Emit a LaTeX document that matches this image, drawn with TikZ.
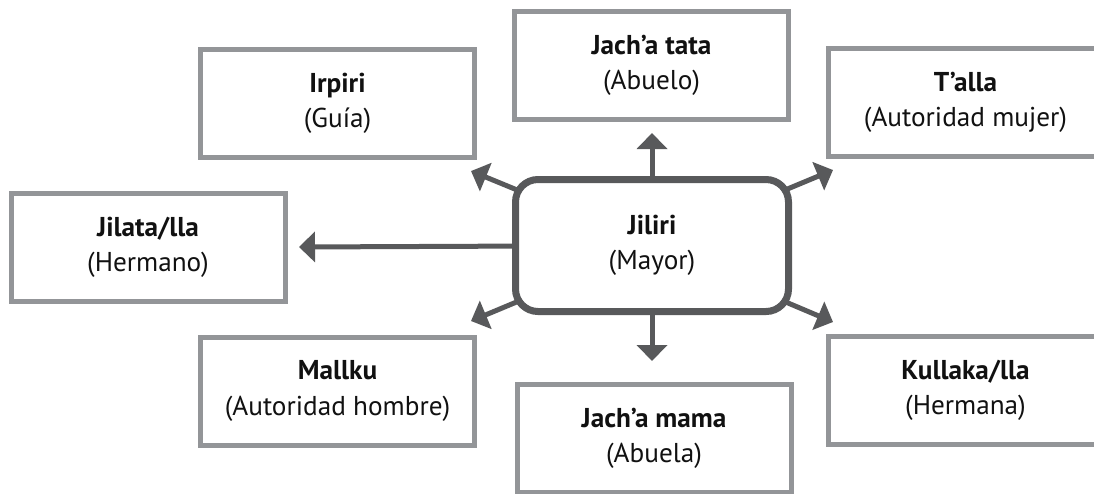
\documentclass[tikz,border=0pt]{standalone}
\usepackage{fontspec}
\setmainfont{PT Sans}
\usetikzlibrary{arrows.meta}
\definecolor{cBox}{HTML}{939598}
\definecolor{cHub}{HTML}{58595B}
\definecolor{cInk}{HTML}{111111}

\begin{document}
\begin{tikzpicture}[
  font=\fontsize{15.5}{20}\selectfont,
  role/.style={draw=cBox,line width=0.1cm,fill=white,text=cInk,align=center,
    inner sep=0pt,minimum width=5.48cm,minimum height=2.16cm},
  hub/.style={draw=cHub,line width=0.14cm,fill=white,text=cInk,align=center,
    rounded corners=0.45cm,inner sep=0pt,minimum width=5.46cm,minimum height=2.64cm},
  ar/.style={-{Triangle[length=3.2mm,width=6mm]},line width=0.1cm,color=cHub},
]
\useasboundingbox (0,0) rectangle (21.88,-9.86);

% ============================================================ arrow ends
\coordinate (hub) at (13.04,-4.91);
\coordinate (tipNW) at (9.42,-3.42);
\coordinate (tipN)  at (13.04,-2.66);
\coordinate (tipNE) at (16.66,-3.40);
\coordinate (tipW)  at (5.98,-4.94);
\coordinate (tipSW) at (9.42,-6.42);
\coordinate (tipS)  at (13.04,-7.22);
\coordinate (tipSE) at (16.66,-6.44);

% arrows leave the hub; the Jiliri box covers their start
\foreach \t in {NW,N,NE,W,SW,S,SE}
  \draw[ar] (hub) -- (tip\t);

% ============================================================ the hub
\node[hub] (jiliri) at (hub) {\textbf{Jiliri}\\(Mayor)};

% ============================================================ the roles
\node[role] (irpiri)  at (6.75,-2.06)  {\textbf{Irpiri}\\(Guía)};
\node[role] (tata)    at (13.03,-1.31) {\textbf{Jach’a tata}\\(Abuelo)};
\node[role] (talla)   at (19.31,-2.05) {\textbf{T’alla}\\(Autoridad mujer)};
\node[role] (jilata)  at (2.96,-4.94)  {\textbf{Jilata/lla}\\(Hermano)};
\node[role] (mallku)  at (6.75,-7.82)  {\textbf{Mallku}\\(Autoridad hombre)};
\node[role] (mama)    at (13.08,-8.77) {\textbf{Jach’a mama}\\(Abuela)};
\node[role] (kullaka) at (19.31,-7.81) {\textbf{Kullaka/lla}\\(Hermana)};

\end{tikzpicture}
\end{document}
